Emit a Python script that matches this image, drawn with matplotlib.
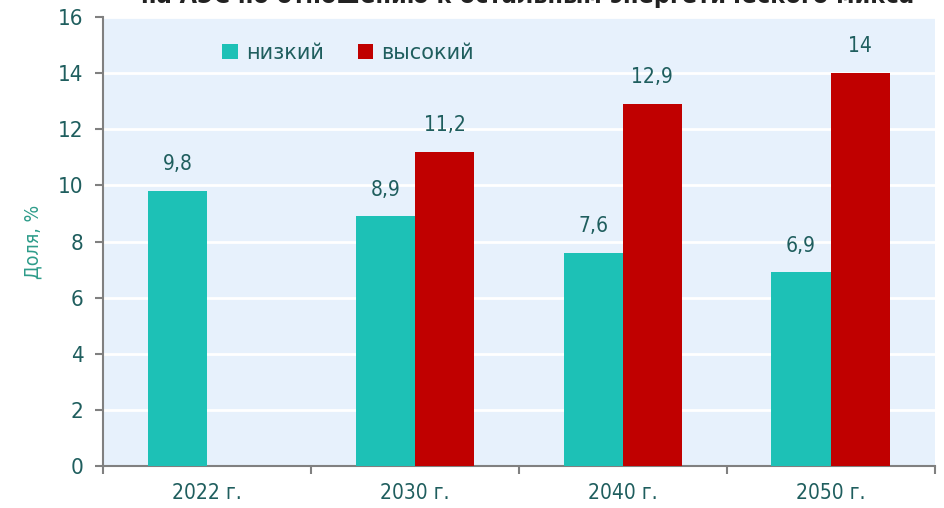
import numpy as np
import matplotlib.pyplot as plt

years = ['2022 г.', '2030 г.', '2040 г.', '2050 г.']
low = [9.8, 8.9, 7.6, 6.9]
high = [np.nan, 11.2, 12.9, 14.0]
low_lbl = ['9,8', '8,9', '7,6', '6,9']
high_lbl = ['', '11,2', '12,9', '14']

plt.rcParams['font.family'] = ['DejaVu Sans']
plt.rcParams['font.stretch'] = 'condensed'

teal = '#1DC1B6'
red = '#C00000'
txt = '#1F5E5E'

fig = plt.figure(figsize=(9.45, 5.08), dpi=100)
ax = fig.add_axes([0.109, 0.0827, 0.880, 0.8838])
ax.set_facecolor('#E7F1FC')

x = np.arange(len(years))
w = 0.285
ax.bar(x - w / 2, low, w, color=teal, label='низкий', zorder=3)
ax.bar(x + w / 2, high, w, color=red, label='высокий', zorder=3)

# value labels above bars
for i in range(len(years)):
    ax.annotate(low_lbl[i], (x[i] - w / 2, low[i]), xytext=(0, 12),
                textcoords='offset points', ha='center', va='bottom',
                fontsize=15, color=txt)
    if high_lbl[i]:
        ax.annotate(high_lbl[i], (x[i] + w / 2, high[i]), xytext=(0, 12),
                    textcoords='offset points', ha='center', va='bottom',
                    fontsize=15, color=txt)

ax.set_xlim(-0.5, len(years) - 0.5)
ax.set_ylim(0, 16)
ax.set_yticks(np.arange(0, 17, 2))
ax.set_xticks(x)
ax.set_xticklabels(years, fontsize=15, color=txt)
ax.set_xticks(np.arange(-0.5, len(years), 1), minor=True)
ax.tick_params(axis='x', which='major', length=0, pad=12)
ax.tick_params(axis='x', which='minor', length=6, color='#808080', width=1.5)
ax.tick_params(axis='y', length=6, color='#808080', width=1.5, labelsize=16,
               labelcolor=txt, pad=8)
ax.grid(axis='y', color='white', linewidth=2, zorder=0)
for s in ['top', 'right']:
    ax.spines[s].set_visible(False)
for s in ['left', 'bottom']:
    ax.spines[s].set_color('#808080')
    ax.spines[s].set_linewidth(1.5)

ax.set_ylabel('Доля, %', fontsize=14, color='#2E9C8A', labelpad=11)

leg = ax.legend(loc='upper left', bbox_to_anchor=(0.121, 0.985), ncol=2,
                frameon=False, handlelength=0.75, handleheight=0.75,
                handletextpad=0.4, columnspacing=1.6,
                prop={'size': 15, 'stretch': 'normal'})
for t in leg.get_texts():
    t.set_color(txt)

# title is cut off at the top edge in the original
fig.text(0.558, 1 - 3 / 508, 'на АЭС по отношению к остальным энергетического микса',
         ha='center', va='baseline', fontsize=18, fontweight='bold',
         color='#222222')

fig.savefig('out.png', dpi=100)
